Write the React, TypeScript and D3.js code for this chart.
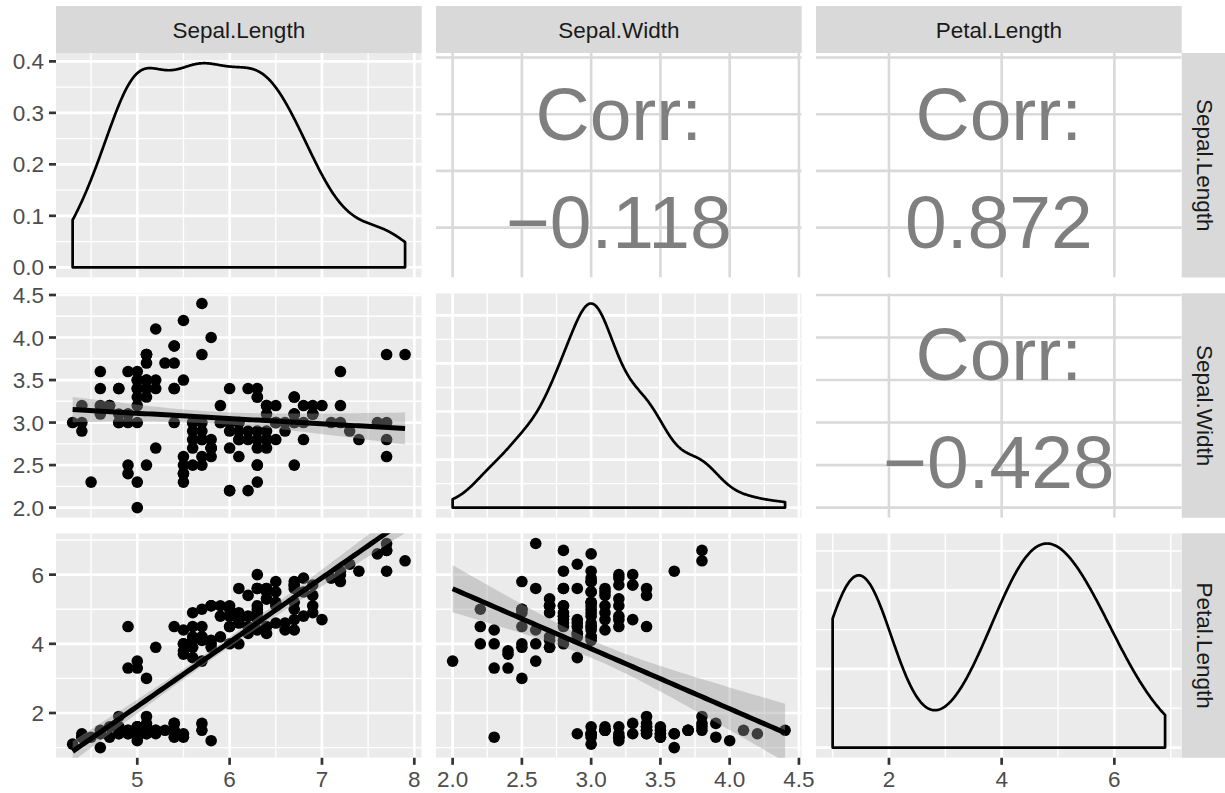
import React from "react";
import * as d3 from "d3";

// iris: first three measurement columns
const sepalLength = [
  5.1, 4.9, 4.7, 4.6, 5.0, 5.4, 4.6, 5.0, 4.4, 4.9, 5.4, 4.8, 4.8, 4.3, 5.8, 5.7, 5.4, 5.1, 5.7, 5.1,
  5.4, 5.1, 4.6, 5.1, 4.8, 5.0, 5.0, 5.2, 5.2, 4.7, 4.8, 5.4, 5.2, 5.5, 4.9, 5.0, 5.5, 4.9, 4.4, 5.1,
  5.0, 4.5, 4.4, 5.0, 5.1, 4.8, 5.1, 4.6, 5.3, 5.0, 7.0, 6.4, 6.9, 5.5, 6.5, 5.7, 6.3, 4.9, 6.6, 5.2,
  5.0, 5.9, 6.0, 6.1, 5.6, 6.7, 5.6, 5.8, 6.2, 5.6, 5.9, 6.1, 6.3, 6.1, 6.4, 6.6, 6.8, 6.7, 6.0, 5.7,
  5.5, 5.5, 5.8, 6.0, 5.4, 6.0, 6.7, 6.3, 5.6, 5.5, 5.5, 6.1, 5.8, 5.0, 5.6, 5.7, 5.7, 6.2, 5.1, 5.7,
  6.3, 5.8, 7.1, 6.3, 6.5, 7.6, 4.9, 7.3, 6.7, 7.2, 6.5, 6.4, 6.8, 5.7, 5.8, 6.4, 6.5, 7.7, 7.7, 6.0,
  6.9, 5.6, 7.7, 6.3, 6.7, 7.2, 6.2, 6.1, 6.4, 7.2, 7.4, 7.9, 6.4, 6.3, 6.1, 7.7, 6.3, 6.4, 6.0, 6.9,
  6.7, 6.9, 5.8, 6.8, 6.7, 6.7, 6.3, 6.5, 6.2, 5.9,
];
const sepalWidth = [
  3.5, 3.0, 3.2, 3.1, 3.6, 3.9, 3.4, 3.4, 2.9, 3.1, 3.7, 3.4, 3.0, 3.0, 4.0, 4.4, 3.9, 3.5, 3.8, 3.8,
  3.4, 3.7, 3.6, 3.3, 3.4, 3.0, 3.4, 3.5, 3.4, 3.2, 3.1, 3.4, 4.1, 4.2, 3.1, 3.2, 3.5, 3.6, 3.0, 3.4,
  3.5, 2.3, 3.2, 3.5, 3.8, 3.0, 3.8, 3.2, 3.7, 3.3, 3.2, 3.2, 3.1, 2.3, 2.8, 2.8, 3.3, 2.4, 2.9, 2.7,
  2.0, 3.0, 2.2, 2.9, 2.9, 3.1, 3.0, 2.7, 2.2, 2.5, 3.2, 2.8, 2.5, 2.8, 2.9, 3.0, 2.8, 3.0, 2.9, 2.6,
  2.4, 2.4, 2.7, 2.7, 3.0, 3.4, 3.1, 2.3, 3.0, 2.5, 2.6, 3.0, 2.6, 2.3, 2.7, 3.0, 2.9, 2.9, 2.5, 2.8,
  3.3, 2.7, 3.0, 2.9, 3.0, 3.0, 2.5, 2.9, 2.5, 3.6, 3.2, 2.7, 3.0, 2.5, 2.8, 3.2, 3.0, 3.8, 2.6, 2.2,
  3.2, 2.8, 2.8, 2.7, 3.3, 3.2, 2.8, 3.0, 2.8, 3.0, 2.8, 3.8, 2.8, 2.8, 2.6, 3.0, 3.4, 3.1, 3.0, 3.1,
  3.1, 3.1, 2.7, 3.2, 3.3, 3.0, 2.5, 3.0, 3.4, 3.0,
];
const petalLength = [
  1.4, 1.4, 1.3, 1.5, 1.4, 1.7, 1.4, 1.5, 1.4, 1.5, 1.5, 1.6, 1.4, 1.1, 1.2, 1.5, 1.3, 1.4, 1.7, 1.5,
  1.7, 1.5, 1.0, 1.7, 1.9, 1.6, 1.6, 1.5, 1.4, 1.6, 1.6, 1.5, 1.5, 1.4, 1.5, 1.2, 1.3, 1.4, 1.3, 1.5,
  1.3, 1.3, 1.3, 1.6, 1.9, 1.4, 1.6, 1.4, 1.5, 1.4, 4.7, 4.5, 4.9, 4.0, 4.6, 4.5, 4.7, 3.3, 4.6, 3.9,
  3.5, 4.2, 4.0, 4.7, 3.6, 4.4, 4.5, 4.1, 4.5, 3.9, 4.8, 4.0, 4.9, 4.7, 4.3, 4.4, 4.8, 5.0, 4.5, 3.5,
  3.8, 3.7, 3.9, 5.1, 4.5, 4.5, 4.7, 4.4, 4.1, 4.0, 4.4, 4.6, 4.0, 3.3, 4.2, 4.2, 4.2, 4.3, 3.0, 4.1,
  6.0, 5.1, 5.9, 5.6, 5.8, 6.6, 4.5, 6.3, 5.8, 6.1, 5.1, 5.3, 5.5, 5.0, 5.1, 5.3, 5.5, 6.7, 6.9, 5.0,
  5.7, 4.9, 6.7, 4.9, 5.7, 6.0, 4.8, 4.9, 5.6, 5.8, 6.1, 6.4, 5.6, 5.1, 5.6, 6.1, 5.6, 5.5, 4.8, 5.4,
  5.6, 5.1, 5.1, 5.9, 5.7, 5.2, 5.0, 5.2, 5.4, 5.1,
];

const varNames = ["Sepal.Length", "Sepal.Width", "Petal.Length"];

// axis breaks per variable
const varBreaks = [
  [5, 6, 7, 8],
  [2.0, 2.5, 3.0, 3.5, 4.0, 4.5],
  [2, 4, 6],
];
const varBreakLabels = [
  ["5", "6", "7", "8"],
  ["2.0", "2.5", "3.0", "3.5", "4.0", "4.5"],
  ["2", "4", "6"],
];
const varMinor = [
  [4.5, 5.5, 6.5, 7.5],
  [2.25, 2.75, 3.25, 3.75, 4.25],
  [1, 3, 5, 7],
];

// density breaks on the diagonal
const densBreaks = [
  [0, 0.1, 0.2, 0.3, 0.4],
  [0, 0.25, 0.5, 0.75, 1.0],
  [0, 0.1, 0.2],
];
const densMinor = [
  [0.05, 0.15, 0.25, 0.35],
  [0.125, 0.375, 0.625, 0.875],
  [0.05, 0.15, 0.25],
];
const densBreakLabels = ["0.0", "0.1", "0.2", "0.3", "0.4"];

// layout
const PANEL_X = [56, 436, 816];
const PANEL_Y = [53, 293.3, 533.3];
const PW = 365.7;
const PH = 224.5;
const STRIP = 47;
const FONT = "'Liberation Sans', Arial, Helvetica, sans-serif";

const padRange = (v: number[]) => {
  const [a, b] = d3.extent(v) as [number, number];
  const p = (b - a) * 0.05;
  return [a - p, b + p];
};

function bwNrd0(v: number[]) {
  const s = d3.sort(v);
  const iqr = (d3.quantileSorted(s, 0.75) as number) - (d3.quantileSorted(s, 0.25) as number);
  const sd = d3.deviation(v) as number;
  return 0.9 * Math.min(sd, iqr / 1.34) * Math.pow(v.length, -0.2);
}

function density(v: number[]) {
  const bw = bwNrd0(v);
  const [lo, hi] = d3.extent(v) as [number, number];
  const k = 1 / (bw * Math.sqrt(2 * Math.PI) * v.length);
  return d3.range(512).map((i) => {
    const x = lo + ((hi - lo) * i) / 511;
    let s = 0;
    for (const xi of v) {
      const z = (x - xi) / bw;
      s += Math.exp(-0.5 * z * z);
    }
    return [x, s * k] as [number, number];
  });
}

function lmFit(x: number[], y: number[]) {
  const n = x.length;
  const mx = d3.mean(x) as number;
  const my = d3.mean(y) as number;
  let sxx = 0, sxy = 0;
  x.forEach((xi, i) => {
    sxx += (xi - mx) ** 2;
    sxy += (xi - mx) * (y[i] - my);
  });
  const b = sxy / sxx;
  const a = my - b * mx;
  let sse = 0;
  x.forEach((xi, i) => (sse += (y[i] - a - b * xi) ** 2));
  const s = Math.sqrt(sse / (n - 2));
  const t = 1.97612;
  const [lo, hi] = d3.extent(x) as [number, number];
  return d3.range(80).map((i) => {
    const xv = lo + ((hi - lo) * i) / 79;
    const fit = a + b * xv;
    const se = s * Math.sqrt(1 / n + (xv - mx) ** 2 / sxx);
    return { x: xv, fit, lo: fit - t * se, hi: fit + t * se };
  });
}

function pearson(x: number[], y: number[]) {
  const mx = d3.mean(x) as number;
  const my = d3.mean(y) as number;
  let sxy = 0, sxx = 0, syy = 0;
  x.forEach((xi, i) => {
    sxy += (xi - mx) * (y[i] - my);
    sxx += (xi - mx) ** 2;
    syy += (y[i] - my) ** 2;
  });
  return sxy / Math.sqrt(sxx * syy);
}

export default function App() {
  const vars = [sepalLength, sepalWidth, petalLength];
  const xs = vars.map((v, j) =>
    d3.scaleLinear().domain(padRange(v)).range([PANEL_X[j], PANEL_X[j] + PW])
  );
  const ys = vars.map((v, i) =>
    d3.scaleLinear().domain(padRange(v)).range([PANEL_Y[i] + PH, PANEL_Y[i]])
  );
  const dens = vars.map((v) => density(v));
  const dys = dens.map((pts, i) => {
    const m = d3.max(pts, (p) => p[1]) as number;
    return d3.scaleLinear().domain([-0.05 * m, 1.05 * m]).range([PANEL_Y[i] + PH, PANEL_Y[i]]);
  });
  const fmt = d3.format(".3f");

  const panels: React.ReactNode[] = [];
  for (let i = 0; i < 3; i++) {
    for (let j = 0; j < 3; j++) {
      const x0 = PANEL_X[j], y0 = PANEL_Y[i];
      const xs_ = xs[j];
      const id = `clip-${i}-${j}`;
      const vLines = (vals: number[], stroke: string, w: number) =>
        vals.map((v) => (
          <line key={`v${v}`} x1={xs_(v)} x2={xs_(v)} y1={y0} y2={y0 + PH} stroke={stroke} strokeWidth={w} />
        ));
      const hLines = (vals: number[], sc: d3.ScaleLinear<number, number>, stroke: string, w: number) =>
        vals.map((v) => (
          <line key={`h${v}`} x1={x0} x2={x0 + PW} y1={sc(v)} y2={sc(v)} stroke={stroke} strokeWidth={w} />
        ));
      let content: React.ReactNode;
      if (i === j) {
        const dy = dys[i];
        const path =
          d3.line<[number, number]>().x((p) => xs_(p[0])).y((p) => dy(p[1]))([
            [dens[i][0][0], 0],
            ...dens[i],
            [dens[i][dens[i].length - 1][0], 0],
          ]) + "Z";
        content = (
          <>
            <rect x={x0} y={y0} width={PW} height={PH} fill="#EBEBEB" />
            {vLines(varMinor[j], "#fff", 1.35)}
            {hLines(densMinor[i], dy, "#fff", 1.35)}
            {vLines(varBreaks[j], "#fff", 2.7)}
            {hLines(densBreaks[i], dy, "#fff", 2.7)}
            <path d={path} fill="none" stroke="#000" strokeWidth={2.7} strokeLinejoin="round" />
          </>
        );
      } else if (i > j) {
        const ysc = ys[i];
        const fit = lmFit(vars[j], vars[i]);
        const band = d3
          .area<{ x: number; lo: number; hi: number }>()
          .x((d) => xs_(d.x))
          .y0((d) => ysc(d.lo))
          .y1((d) => ysc(d.hi))(fit);
        const line = d3
          .line<{ x: number; fit: number }>()
          .x((d) => xs_(d.x))
          .y((d) => ysc(d.fit))(fit);
        content = (
          <>
            <rect x={x0} y={y0} width={PW} height={PH} fill="#EBEBEB" />
            {vLines(varMinor[j], "#fff", 1.35)}
            {hLines(varMinor[i], ysc, "#fff", 1.35)}
            {vLines(varBreaks[j], "#fff", 2.7)}
            {hLines(varBreaks[i], ysc, "#fff", 2.7)}
            {vars[j].map((xv, k) => (
              <circle key={k} cx={xs_(xv)} cy={ysc(vars[i][k])} r={5.8} fill="#000" />
            ))}
            <path d={band || ""} fill="#999999" fillOpacity={0.4} />
            <path d={line || ""} fill="none" stroke="#000" strokeWidth={5} />
          </>
        );
      } else {
        const ysc = ys[i];
        const r = pearson(vars[j], vars[i]);
        const cx = x0 + PW / 2, cy = y0 + PH / 2;
        content = (
          <>
            <rect x={x0} y={y0} width={PW} height={PH} fill="#fff" />
            {vLines(varBreaks[j], "#D9D9D9", 2.6)}
            {hLines(varBreaks[i], ysc, "#D9D9D9", 2.6)}
            <text x={cx} y={cy - 25.5} textAnchor="middle" fontSize={75} fill="#7F7F7F" fontFamily={FONT}>
              Corr:
            </text>
            <text x={cx} y={cy + 82.8} textAnchor="middle" fontSize={75} fill="#7F7F7F" fontFamily={FONT}>
              {fmt(r)}
            </text>
          </>
        );
      }
      panels.push(
        <g key={id}>
          <clipPath id={id}>
            <rect x={x0} y={y0} width={PW} height={PH} />
          </clipPath>
          <g clipPath={`url(#${id})`}>{content}</g>
        </g>
      );
    }
  }

  const axisFs = 22.5;
  const tickColor = "#333333";
  const labColor = "#4D4D4D";
  const bottomY = PANEL_Y[2] + PH;

  return (
    <div>
      <style>{`body{margin:0}`}</style>
      <svg width={1225} height={793} style={{ display: "block", background: "#fff" }}>
        {panels}
        {/* top strips */}
        {varNames.map((name, j) => (
          <g key={`ts${j}`}>
            <rect x={PANEL_X[j]} y={PANEL_Y[0] - STRIP} width={PW} height={STRIP} fill="#D9D9D9" />
            <text
              x={PANEL_X[j] + PW / 2}
              y={PANEL_Y[0] - STRIP / 2}
              dy="0.36em"
              textAnchor="middle"
              fontSize={axisFs}
              fill="#1A1A1A"
              fontFamily={FONT}
            >
              {name}
            </text>
          </g>
        ))}
        {/* right strips */}
        {varNames.map((name, i) => {
          const sx = PANEL_X[2] + PW;
          const cy = PANEL_Y[i] + PH / 2;
          return (
            <g key={`rs${i}`}>
              <rect x={sx} y={PANEL_Y[i]} width={STRIP} height={PH} fill="#D9D9D9" />
              <text
                transform={`translate(${sx + STRIP / 2},${cy}) rotate(90)`}
                dy="0.36em"
                textAnchor="middle"
                fontSize={axisFs}
                fill="#1A1A1A"
                fontFamily={FONT}
              >
                {name}
              </text>
            </g>
          );
        })}
        {/* bottom axes */}
        {varBreaks.map((br, j) =>
          br.map((b, k) => (
            <g key={`bx${j}-${k}`}>
              <line x1={xs[j](b)} x2={xs[j](b)} y1={bottomY} y2={bottomY + 7} stroke={tickColor} strokeWidth={2.7} />
              <text
                x={xs[j](b)}
                y={bottomY + 29}
                textAnchor="middle"
                fontSize={axisFs}
                fill={labColor}
                fontFamily={FONT}
              >
                {varBreakLabels[j][k]}
              </text>
            </g>
          ))
        )}
        {/* left axes */}
        {[0, 1, 2].map((i) => {
          const sc = i === 0 ? dys[0] : ys[i];
          const br = i === 0 ? densBreaks[0] : varBreaks[i];
          const labs = i === 0 ? densBreakLabels : varBreakLabels[i];
          return br.map((b, k) => (
            <g key={`ly${i}-${k}`}>
              <line x1={PANEL_X[0] - 7} x2={PANEL_X[0]} y1={sc(b)} y2={sc(b)} stroke={tickColor} strokeWidth={2.7} />
              <text
                x={PANEL_X[0] - 12}
                y={sc(b)}
                dy="0.36em"
                textAnchor="end"
                fontSize={axisFs}
                fill={labColor}
                fontFamily={FONT}
              >
                {labs[k]}
              </text>
            </g>
          ));
        })}
      </svg>
    </div>
  );
}
